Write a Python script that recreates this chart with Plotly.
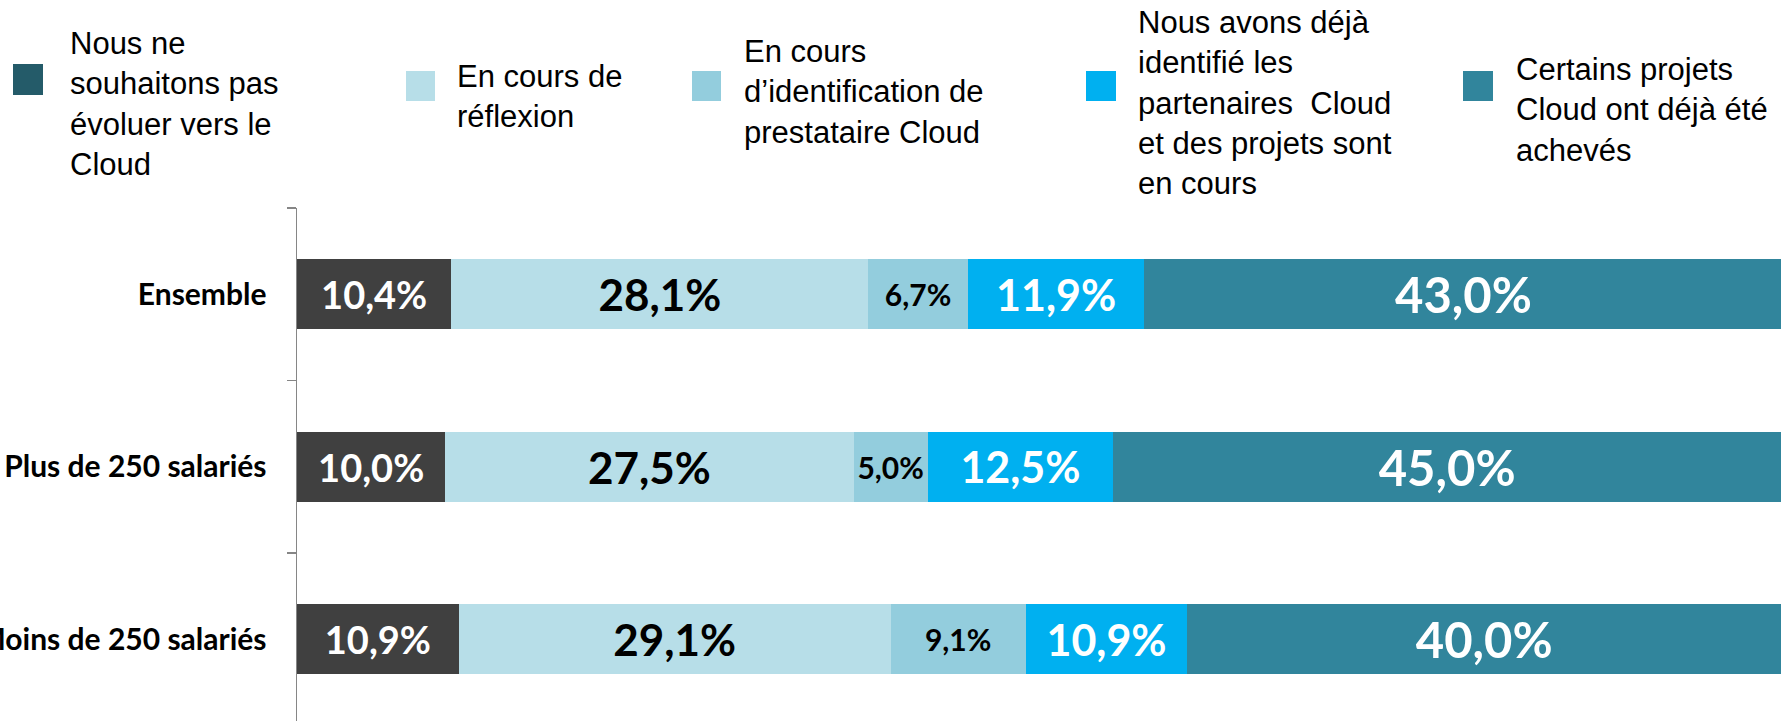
import plotly.graph_objects as go

# ---- data ----
categories = ["Ensemble", "Plus de 250 salariés", "Moins de 250 salariés"]
series_names = [
    "Nous ne<br>souhaitons pas<br>évoluer vers le<br>Cloud",
    "En cours de<br>réflexion",
    "En cours<br>d’identification de<br>prestataire Cloud",
    "Nous avons déjà<br>identifié les<br>partenaires  Cloud<br>et des projets sont<br>en cours",
    "Certains projets<br>Cloud ont déjà été<br>achevés",
]
s1_pas_evoluer = [10.4, 10.0, 10.9]
s2_reflexion = [28.1, 27.5, 29.1]
s3_identification = [6.7, 5.0, 9.1]
s4_projets_en_cours = [11.9, 12.5, 10.9]
s5_projets_acheves = [43.0, 45.0, 40.0]
series_values = [s1_pas_evoluer, s2_reflexion, s3_identification, s4_projets_en_cours, s5_projets_acheves]

# ---- style ----
bar_colors = ["#404040", "#B7DEE8", "#93CDDD", "#00B0F0", "#31859C"]
legend_colors = ["#245B69", "#B7DEE8", "#93CDDD", "#00B0F0", "#31859C"]
label_colors = ["white", "black", "black", "white", "white"]
label_sizes = [38, 44, 30, 43, 49]

W, H = 1781, 721
ML, MR, MT, MB = 297, 0, 208, 0
PW, PH = W - ML - MR, H - MT - MB


def px_x(px):
    return (px - ML) / PW


def px_y(py):
    return (H - MB - py) / PH


fig = go.Figure()
for name, vals, col, tcol, tsz in zip(series_names, series_values, bar_colors, label_colors, label_sizes):
    fig.add_trace(go.Bar(
        y=categories, x=vals, orientation="h", name=name.replace("<br>", " "),
        marker=dict(color=col, line=dict(width=0)),
        text=[f"{v:.1f}%".replace(".", ",") for v in vals],
        textposition="inside", insidetextanchor="middle", textangle=0,
        constraintext="none",
        textfont=dict(family="Lato", size=tsz, color=tcol, weight="bold"),
        showlegend=False, hoverinfo="skip",
    ))

# custom legend (markers + labels)
marker_boxes = [(13, 43, 64, 95), (406, 435, 71, 101), (692, 721, 71, 101),
                (1086, 1116, 71, 101), (1463, 1493, 71, 101)]
text_x = [68, 455, 742, 1136, 1514]
text_yc = [104, 96, 92, 103, 110]
shapes = []
annotations = []
for i, name in enumerate(series_names):
    x0, x1, y0, y1 = marker_boxes[i]
    shapes.append(dict(type="rect", xref="paper", yref="paper",
                       x0=px_x(x0), x1=px_x(x1), y0=px_y(y1), y1=px_y(y0),
                       fillcolor=legend_colors[i], line=dict(width=0)))
    annotations.append(dict(xref="paper", yref="paper", x=px_x(text_x[i]), y=px_y(text_yc[i]),
                            xanchor="left", yanchor="middle", align="left", showarrow=False,
                            text=name, font=dict(family="Liberation Sans, Arial", size=31, color="black")))

fig.update_layout(
    width=W, height=H, barmode="stack", bargap=0.594,
    margin=dict(l=ML, r=MR, t=MT, b=MB, pad=0, autoexpand=False),
    paper_bgcolor="white", plot_bgcolor="white",
    shapes=shapes, annotations=annotations, showlegend=False,
    xaxis=dict(range=[0, 100], visible=False, fixedrange=True, automargin=False),
    yaxis=dict(type="category", categoryorder="array", categoryarray=categories,
               range=[2.474, -0.5], showline=True, linecolor="#868686", linewidth=1.5,
               ticks="outside", tickson="boundaries", ticklen=9, tickcolor="#868686", tickwidth=1.5,
               ticklabelstandoff=23, showgrid=False, zeroline=False, automargin=False,
               fixedrange=True,
               tickfont=dict(family="Lato", size=30, color="black", weight="bold")),
)

fig.write_html("out.html", config={"displayModeBar": False, "staticPlot": True},
               post_script="document.body.style.margin='0px';document.body.style.overflow='hidden';")
